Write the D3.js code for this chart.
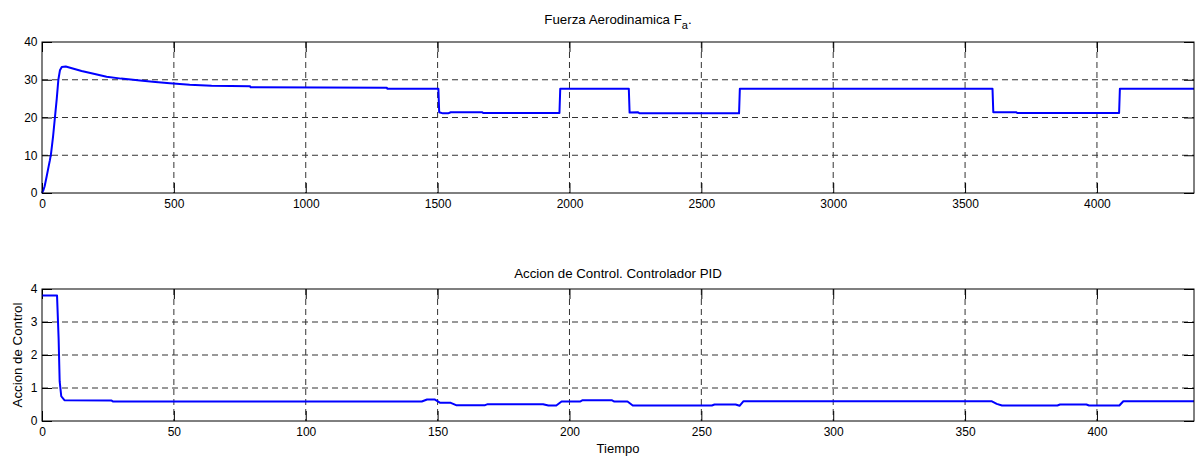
<!DOCTYPE html>
<html>
<head>
<meta charset="utf-8">
<script src="https://cdn.jsdelivr.net/npm/d3@7"></script>
<style>
  body { margin: 0; background: #fff; }
  svg { display: block; font-family: "Liberation Sans", Arial, sans-serif; }
</style>
</head>
<body>
<div class="chart"></div>
<script>
// Fuerza aerodinamica (top panel)
let fTime = [0, 5, 10, 18, 25, 30, 34, 38, 42, 49, 56, 62, 68, 75, 90, 120, 150, 200, 245, 300, 372, 430, 485, 560, 643, 789, 791,
  1307, 1310, 1503, 1506, 1520, 1540, 1550, 1670, 1672, 1962, 1965, 2225, 2228, 2260, 2265, 2643, 2646,
  3604, 3607, 3695, 3697, 4084, 4087, 4368];
let fValue = [0, 0.7, 1.8, 4.5, 7, 8.7, 10.3, 12.6, 15, 20, 25, 30, 32.5, 33.4, 33.5, 32.9, 32.3, 31.5, 30.8, 30.3, 29.8, 29.4, 29.1, 28.7, 28.4, 28.3, 28.0,
  27.9, 27.6, 27.6, 21.4, 21.1, 21.1, 21.4, 21.4, 21.2, 21.2, 27.6, 27.6, 21.3, 21.4, 21.1, 21.1, 27.6,
  27.6, 21.4, 21.4, 21.2, 21.2, 27.6, 27.6];

// Accion de control (bottom panel)
let uTime = [0, 5.7, 6.3, 6.7, 7.3, 8.5, 26.4, 27, 144, 146, 149, 151, 155, 157, 168, 169, 190, 192, 195, 197,
  204, 205, 216, 217, 222, 224, 254, 255, 263, 264.5, 266, 360, 362, 364, 385, 386, 396, 397, 408.5, 410, 436.8];
let uValue = [3.8, 3.8, 2.5, 1.2, 0.75, 0.63, 0.62, 0.59, 0.59, 0.65, 0.65, 0.55, 0.55, 0.48, 0.48, 0.51, 0.51, 0.47, 0.47, 0.59,
  0.59, 0.63, 0.63, 0.59, 0.59, 0.47, 0.47, 0.5, 0.5, 0.46, 0.6, 0.6, 0.52, 0.47, 0.47, 0.5, 0.5, 0.47, 0.47, 0.6, 0.6];

let fXTicks = [0, 500, 1000, 1500, 2000, 2500, 3000, 3500, 4000];
let fYTicks = [0, 10, 20, 30, 40];
let uXTicks = [0, 50, 100, 150, 200, 250, 300, 350, 400];
let uYTicks = [0, 1, 2, 3, 4];

let width = 1199, height = 457;
let left = 42, right = 1194;

const svg = d3.select(".chart").append("svg")
  .attr("width", width)
  .attr("height", height);

function panel(top, bottom, xMax, yMax, xTicks, yTicks, times, values) {
  let x = d3.scaleLinear().domain([0, xMax]).range([left, right]);
  let y = d3.scaleLinear().domain([0, yMax]).range([bottom, top]);
  let g = svg.append("g");
  let fmt = d3.format("d");

  // dashed grid
  g.selectAll(".gx").data(xTicks.filter(t => t > 0)).enter().append("line")
    .attr("x1", d => x(d)).attr("x2", d => x(d))
    .attr("y1", top).attr("y2", bottom)
    .attr("stroke", "#333").attr("stroke-dasharray", "6,4");
  g.selectAll(".gy").data(yTicks.filter(t => t > 0 && t < yMax)).enter().append("line")
    .attr("x1", left).attr("x2", right)
    .attr("y1", d => y(d)).attr("y2", d => y(d))
    .attr("stroke", "#333").attr("stroke-dasharray", "6,4");

  // ticks inside, mirrored on top/right
  let tl = 10;
  let axB = d3.axisBottom(x).tickValues(xTicks).tickFormat(fmt).tickSizeInner(-tl).tickSizeOuter(0).tickPadding(6);
  let axT = d3.axisTop(x).tickValues(xTicks).tickSizeInner(-tl).tickSizeOuter(0).tickFormat("");
  let axL = d3.axisLeft(y).tickValues(yTicks).tickFormat(fmt).tickSizeInner(-tl).tickSizeOuter(0).tickPadding(4.5);
  let axR = d3.axisRight(y).tickValues(yTicks).tickSizeInner(-tl).tickSizeOuter(0).tickFormat("");

  let styleAxis = function (sel) {
    sel.select(".domain").remove();
    sel.selectAll("line").attr("stroke", "#000");
    sel.selectAll("text").attr("fill", "#000").style("font-size", "12px")
      .style("font-family", "'Liberation Sans', Arial, sans-serif");
  };
  g.append("g").attr("transform", "translate(0," + bottom + ")").call(axB).call(styleAxis);
  g.append("g").attr("transform", "translate(0," + top + ")").call(axT).call(styleAxis);
  g.append("g").attr("transform", "translate(" + left + ",0)").call(axL).call(styleAxis);
  g.append("g").attr("transform", "translate(" + right + ",0)").call(axR).call(styleAxis);

  let pts = times.map((t, i) => [t, values[i]]);
  g.append("path")
    .datum(pts)
    .attr("fill", "none")
    .attr("stroke", "#0000ff")
    .attr("stroke-width", 2)
    .attr("stroke-linejoin", "round")
    .attr("d", d3.line().x(d => x(d[0])).y(d => y(d[1])));

  g.append("rect")
    .attr("x", left).attr("y", top)
    .attr("width", right - left).attr("height", bottom - top)
    .attr("fill", "none").attr("stroke", "#000").attr("stroke-width", 1);
  return g;
}

panel(42, 193, 4368, 40, fXTicks, fYTicks, fTime, fValue);
panel(289, 421, 436.8, 4, uXTicks, uYTicks, uTime, uValue);

// titles and labels
let t1 = svg.append("text")
  .attr("x", (left + right) / 2).attr("y", 24)
  .attr("text-anchor", "middle")
  .style("font-size", "13.3px");
t1.append("tspan").text("Fuerza Aerodinamica F");
t1.append("tspan").attr("dy", 5).style("font-size", "11px").text("a");
t1.append("tspan").attr("dy", -5).text(".");

svg.append("text")
  .attr("x", (left + right) / 2).attr("y", 278)
  .attr("text-anchor", "middle")
  .style("font-size", "13.3px")
  .text("Accion de Control. Controlador PID");

svg.append("text")
  .attr("x", (left + right) / 2).attr("y", 453)
  .attr("text-anchor", "middle")
  .style("font-size", "13px")
  .text("Tiempo");

svg.append("text")
  .attr("transform", "translate(21.5," + (289 + 421) / 2 + ") rotate(-90)")
  .attr("text-anchor", "middle")
  .style("font-size", "13.3px")
  .text("Accion de Control");
</script>
</body>
</html>
